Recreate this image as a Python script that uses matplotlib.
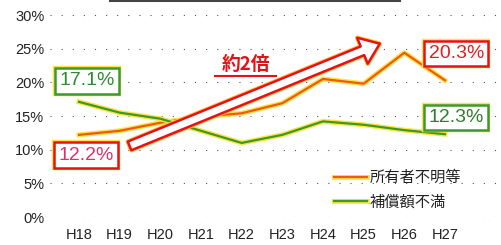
import matplotlib
matplotlib.use('Agg')
import matplotlib.pyplot as plt
import matplotlib.patheffects as pe
from matplotlib.patches import FancyArrowPatch
from matplotlib.lines import Line2D

plt.rcParams['font.family'] = ['Liberation Sans', 'Noto Sans CJK JP', 'DejaVu Sans']

# データ
years = ['H18', 'H19', 'H20', 'H21', 'H22', 'H23', 'H24', 'H25', 'H26', 'H27']
unknown_owner = [12.2, 12.8, 14.0, 14.9, 15.4, 16.9, 20.5, 19.8, 24.4, 20.3]
compensation = [17.1, 15.5, 14.6, 12.8, 11.0, 12.2, 14.2, 13.7, 12.9, 12.3]
yticks = [0, 5, 10, 15, 20, 25, 30]
label_owner = '所有者不明等'
label_comp = '補償額不満'

W, H = 502, 245
fig = plt.figure(figsize=(W / 100, H / 100), dpi=100)
left_px, right_px, bot_px, top_px = 50, 500, 217, 5
ax = fig.add_axes([left_px / W, (H - bot_px) / H,
                   (right_px - left_px) / W, (bot_px - top_px) / H])

step = (445 - 79) / 9
ax.set_xlim(-(79 - left_px) / step, 9 + (right_px - 445) / step)
ax.set_ylim(0, 30 + (15 - top_px) / 6.73)

for s in ax.spines.values():
    s.set_visible(False)

x = list(range(len(years)))
glow = lambda w: [pe.Stroke(linewidth=w, foreground='#ffe24a'), pe.Normal()]

ax.plot(x, unknown_owner, color='#f05a10', lw=1.6, label=label_owner,
        path_effects=glow(3.6), zorder=3)
ax.plot(x, compensation, color='#3c9a1e', lw=1.6, label=label_comp,
        path_effects=glow(3.6), zorder=3)

ax.set_yticks(yticks)
ax.set_yticklabels([f'{v}%' for v in yticks], fontsize=10.5, color='#222222')
ax.set_xticks(x)
ax.set_xticklabels(years, fontsize=10.5, color='#222222')
ax.tick_params(axis='both', length=0)
ax.tick_params(axis='y', pad=4)
ax.tick_params(axis='x', pad=8)
ax.yaxis.grid(True, color='#555555', lw=0.8, linestyle=(0, (1, 9)))
ax.set_axisbelow(True)

# 値ボックス
def value_box(xi, yv, txt, tcolor, ecolor):
    t = ax.text(xi, yv, txt, fontsize=14, color=tcolor, ha='center', va='center',
                zorder=5,
                bbox=dict(boxstyle='square,pad=0.22', facecolor='white',
                          edgecolor=ecolor, lw=1.8))
    t.get_bbox_patch().set_path_effects(
        [pe.Stroke(linewidth=3.2, foreground='#ffe24a'), pe.Normal()])
    return t

value_box(0.2, 20.2, '17.1%', '#2e8b2e', '#3a9a30')
value_box(0.18, 9.2, '12.2%', '#e0306a', '#e81018')
value_box(9.28, 24.3, '20.3%', '#e02020', '#e81018')
value_box(9.28, 14.8, '12.3%', '#2e7d2e', '#3a9a30')

# 矢印
arrow = FancyArrowPatch((1.18, 10.4), (7.46, 25.9),
                        arrowstyle='simple,head_length=0.9,head_width=1.35,tail_width=0.45',
                        mutation_scale=15, facecolor='white', edgecolor='#e81018',
                        lw=1.8, zorder=4)
arrow.set_path_effects([pe.Stroke(linewidth=3.2, foreground='#ffc040'), pe.Normal()])
ax.add_patch(arrow)

ax.text(4.1, 22.6, '約2倍', fontsize=13.5, fontweight='bold', color='#e81018',
        ha='center', va='center', zorder=5,
        family=['Noto Sans CJK JP', 'DejaVu Sans'])
ax.plot([3.35, 4.85], [21.0, 21.0], color='#e81018', lw=1.5, zorder=5)

leg = ax.legend(loc='center left', bbox_to_anchor=(320 / W, (H - 190) / H),
                bbox_transform=fig.transFigure, frameon=False,
                prop={'family': ['Noto Sans CJK JP', 'DejaVu Sans'], 'size': 11},
                handlelength=2.2, handletextpad=0.15, labelspacing=0.5)
for t in leg.get_texts():
    t.set_color('#222222')

# 上端の枠線
fig.add_artist(Line2D([110 / W, 400 / W], [1 - 1.2 / H] * 2, color='#444444', lw=1.5))

plt.savefig('out.png', dpi=100)
